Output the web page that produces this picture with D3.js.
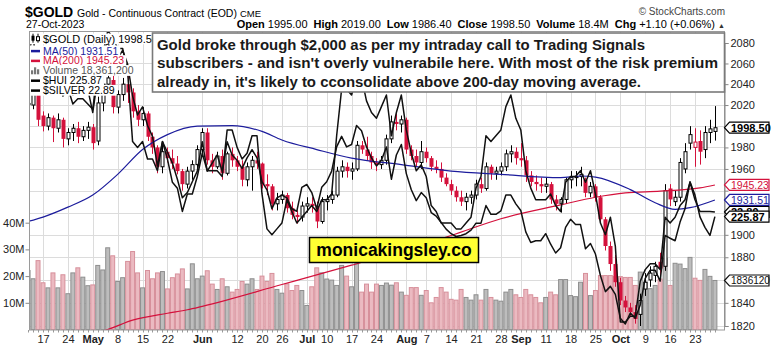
<!DOCTYPE html>
<html>
<head>
<meta charset="utf-8">
<script src="https://cdn.jsdelivr.net/npm/d3@7/dist/d3.min.js"></script>
<style>
  html, body { margin: 0; padding: 0; background: #fff; }
  svg { display: block; }
  text { font-family: "Liberation Sans", Arial, sans-serif; }
</style>
</head>
<body>
<svg id="chart" width="772" height="347"></svg>
<script>
// ---------- data: trading days (2023) ----------
const days = [
  "04-12","04-13","04-14","04-17","04-18","04-19","04-20","04-21","04-24","04-25","04-26","04-27","04-28",
  "05-01","05-02","05-03","05-04","05-05","05-08","05-09","05-10","05-11","05-12","05-15","05-16","05-17","05-18","05-19","05-22","05-23","05-24","05-25","05-26","05-30","05-31",
  "06-01","06-02","06-05","06-06","06-07","06-08","06-09","06-12","06-13","06-14","06-15","06-16","06-20","06-21","06-22","06-23","06-26","06-27","06-28","06-29","06-30",
  "07-03","07-05","07-06","07-07","07-10","07-11","07-12","07-13","07-14","07-17","07-18","07-19","07-20","07-21","07-24","07-25","07-26","07-27","07-28","07-31",
  "08-01","08-02","08-03","08-04","08-07","08-08","08-09","08-10","08-11","08-14","08-15","08-16","08-17","08-18","08-21","08-22","08-23","08-24","08-25","08-28","08-29","08-30","08-31",
  "09-01","09-05","09-06","09-07","09-08","09-11","09-12","09-13","09-14","09-15","09-18","09-19","09-20","09-21","09-22","09-25","09-26","09-27","09-28","09-29",
  "10-02","10-03","10-04","10-05","10-06","10-09","10-10","10-11","10-12","10-13","10-16","10-17","10-18","10-19","10-20","10-23","10-24","10-25","10-26","10-27"
];

// $GOLD daily OHLC
const open = [
  2022,2020,2035,2010,2000,2008,1998,2006,1988,1994,1998,1990,1996,
  1999,1986,2022,2040,2044,2018,2030,2040,2032,2014,2006,2012,1990,1980,1962,1976,1970,1965,1958,1946,1958,1964,
  1978,1994,1968,1962,1972,1956,1974,1968,1962,1950,1962,1968,1965,1946,1944,1928,1932,1936,1924,1918,1916,
  1926,1928,1926,1912,1930,1932,1936,1958,1962,1958,1960,1982,1978,1972,1966,1964,1968,1988,2004,2002,
  2006,1978,1972,1966,1976,1970,1962,1960,1952,1946,1940,1934,1930,1934,1936,1946,1942,1962,1956,1958,1962,1974,1976,
  1970,1968,1954,1948,1946,1944,1946,1932,1928,1932,1950,1952,1953,1950,1938,1944,1934,1914,1890,1874,
  1858,1842,1836,1832,1830,1852,1860,1864,1876,1872,1942,1930,1934,1960,1984,1980,1986,1978,1994,1995
];
const high = [
  2030,2040,2042,2014,2012,2010,2012,2008,1998,2002,2004,2000,2004,
  2002,2028,2048,2078,2048,2034,2046,2052,2036,2020,2018,2014,1994,1982,1984,1980,1978,1972,1960,1962,1968,1982,
  1998,1998,1974,1976,1978,1976,1980,1972,1968,1966,1972,1976,1966,1955,1946,1938,1940,1938,1930,1922,1930,
  1934,1934,1930,1934,1936,1940,1962,1968,1966,1966,1986,1986,1990,1976,1970,1972,1992,2010,2012,2010,
  2008,1982,1978,1986,1980,1972,1968,1966,1956,1950,1944,1940,1938,1940,1950,1952,1966,1964,1962,1966,1978,1982,1980,
  1984,1972,1958,1954,1952,1952,1948,1936,1934,1952,1958,1958,1962,1952,1948,1946,1936,1916,1894,1882,
  1862,1846,1840,1838,1848,1866,1872,1876,1884,1946,1946,1940,1970,1984,2000,1998,1996,2000,2006,2019
];
const low = [
  2012,2016,2000,1995,1996,1985,1994,1980,1982,1986,1984,1986,1988,
  1978,1982,2014,2030,2012,2012,2024,2022,2008,2000,2000,1986,1974,1956,1956,1966,1960,1955,1940,1942,1950,1958,
  1972,1964,1956,1960,1950,1954,1962,1958,1944,1944,1940,1960,1942,1936,1922,1922,1928,1920,1914,1910,1912,
  1920,1920,1906,1910,1922,1928,1934,1952,1952,1950,1958,1974,1968,1960,1958,1960,1964,1984,1996,1994,
  1974,1968,1962,1960,1966,1958,1956,1948,1944,1936,1930,1926,1922,1928,1932,1938,1940,1950,1950,1954,1958,1966,1964,
  1962,1948,1944,1940,1938,1938,1928,1922,1920,1928,1942,1944,1944,1934,1934,1930,1910,1886,1868,1854,
  1838,1832,1828,1822,1820,1846,1854,1858,1864,1868,1926,1926,1930,1956,1978,1962,1964,1970,1984,1986.4
];
const close = [
  2020,2035,2006,2000,2008,1998,2006,1988,1994,1998,1990,1996,1999,
  1984,2022,2040,2046,2018,2030,2040,2032,2014,2006,2012,1990,1980,1962,1976,1970,1965,1958,1946,1958,1964,1978,
  1994,1968,1962,1972,1956,1974,1968,1962,1950,1962,1968,1965,1946,1944,1928,1932,1936,1924,1918,1916,1926,
  1928,1926,1912,1930,1932,1936,1958,1962,1958,1960,1982,1978,1972,1966,1964,1968,1988,2004,2002,2006,
  1978,1972,1966,1976,1970,1962,1960,1952,1946,1940,1934,1930,1934,1936,1946,1942,1962,1956,1958,1962,1974,1976,1970,
  1968,1954,1948,1946,1944,1946,1932,1928,1932,1950,1952,1953,1955,1938,1944,1934,1914,1890,1874,1858,
  1842,1836,1832,1826,1842,1858,1866,1872,1870,1940,1932,1934,1966,1976,1992,1985,1976,1994,1997.4,1998.5
];
// volume, millions of contracts
const volume = [
  22.1,19.0,25.8,17.5,15.6,21.2,15.6,20.5,13.4,21.2,23.1,19.6,16.4,
  16.7,24.0,22.3,30.6,27.6,18.0,19.4,25.5,29.2,21.2,15.6,22.1,19.0,21.2,21.7,15.2,19.4,20.8,22.7,15.2,24.6,19.0,
  20,22,17,15,19,16,14,15,18,17,19,15,20,18,21,15,13.6,17.1,14.6,16.5,14.6,
  9,16,23.1,21.2,18.9,18.5,16.5,24,20,16,24.6,14,17,14,17,16.5,17.4,16.6,17.5,14,
  12.8,15.7,15.7,12.8,14.6,10,12,15.7,14,11.3,11,15,12,11,13,11,15,12,11,10.6,14,15,13,
  12,15,13,12,10,12,14,13,18.7,18.7,12.7,12.3,17.7,21,12.7,14.6,20.2,20.2,20.2,19.8,
  19.8,19.5,19.5,16.5,21.5,17.7,15.3,16.5,18.9,26.6,16.5,24.8,24.5,22.8,27,19.2,18.4,22.5,19.9,18.3612
];
// $SILVER overlay
const silver = [
  25.6,25.9,25.3,25.2,25.3,25.2,25.3,25.1,25.2,24.9,25.0,25.0,25.0,
  24.6,25.2,25.6,26.0,25.9,25.7,25.7,25.3,24.1,24.0,24.1,23.8,23.8,23.6,24.1,23.8,23.4,23.3,22.9,23.2,23.2,23.5,
  23.9,23.6,23.6,23.6,23.5,24.3,24.3,24.0,23.8,23.9,24.2,24.2,23.2,22.6,22.5,22.6,22.7,23.1,22.9,22.7,22.8,
  22.9,23.0,22.9,23.1,23.1,23.2,24.2,25.0,25.0,24.9,25.2,25.2,24.8,24.6,24.5,24.7,24.9,24.2,24.6,24.9,
  24.3,23.9,23.6,23.7,23.5,23.0,22.9,22.7,22.7,22.7,22.6,22.6,22.7,22.8,23.3,23.5,24.2,24.1,24.2,24.3,24.7,24.9,24.5,
  24.3,23.6,23.3,23.1,23.1,23.1,23.2,23.0,22.9,23.4,23.5,23.5,23.6,23.4,23.6,23.2,22.7,22.5,22.8,22.3,
  21.0,21.0,21.1,21.1,21.7,21.9,22.0,22.0,21.9,22.8,22.7,22.8,23.0,23.1,23.4,23.1,22.9,22.9,22.9,22.89
];
// $HUI overlay
const hui = [
  273.9,277.0,267.1,265.5,269.3,265.5,268.6,260.2,262.5,257.9,259.4,259.4,257.9,
  256.4,267.8,271.6,276.2,270.1,270.9,273.2,269.3,260.2,254.8,257.1,251.8,248.7,240.3,247.2,244.2,241.1,236.5,231.2,232.7,235.8,238.8,
  247.2,238.8,241.1,243.4,238.8,247.2,243.4,241.9,239.6,242.6,244.9,242.6,235.8,233.5,228.1,231.2,232.0,231.2,228.1,227.4,234.2,
  235.0,232.7,228.1,234.2,235.8,238.8,245.7,248.7,245.7,246.4,251.8,250.3,245.7,242.6,240.3,241.9,245.7,236.5,243.4,246.4,
  238.1,233.5,230.4,232.7,231.2,227.0,226.0,224.2,222.3,221.0,220.2,220.5,221.0,222.0,224.0,224.0,229.0,226.5,226.5,227.5,232.0,232.0,229.5,
  227.6,221.5,218.5,219.0,219.0,221.0,218.0,215.5,217.0,222.8,225.1,223.6,223.6,216.7,218.2,215.2,209.1,204.5,206.0,203.7,
  196.9,195.3,198.4,196.9,200.7,208.3,210.6,210.6,207.5,220.5,219.7,219.0,224.3,228.1,235.8,232.0,225.8,222.8,220.5,225.87
];
// moving averages (sampled)
const ma50Days = ["04-12","04-17","04-24","05-01","05-08","05-15","05-22","05-31","06-09","06-20","06-26","07-06","07-17","07-31","08-14","08-28","09-14","09-20","09-25","10-04","10-11","10-17","10-20","10-27"];
const ma50 = [1912,1916,1925,1936,1955,1978,1992,2000,2000.5,1995,1987,1978,1970,1964,1958,1955,1952,1953.5,1952.5,1941,1929,1923,1924.5,1931.51];
const ma200Days = ["04-12","04-24","05-04","05-11","05-22","05-26","06-01","06-26","07-17","07-31","08-14","08-28","09-14","09-25","10-03","10-12","10-24","10-27"];
const ma200 = [1804,1810,1817,1825,1831,1834,1837,1856,1873,1885.6,1899.4,1914.5,1927,1934,1938,1939.5,1942.6,1945.23];

// axis ticks
const priceTicks = [1820,1840,1860,1880,1900,1920,1940,1960,1980,2000,2020,2040,2060,2080];
const volumeTicks = [10,20,30,40];
const tickDays = ["04-17","04-24","05-01","05-08","05-15","05-22","06-01","06-12","06-20","06-26","07-03","07-10","07-17","07-24","08-01","08-07","08-14","08-21","08-28","09-01","09-11","09-18","09-25","10-02","10-09","10-16","10-23"];
const tickLabels = ["17","24","May","8","15","22","Jun","12","20","26","Jul","10","17","24","Aug","7","14","21","28","Sep","11","18","25","Oct","9","16","23"];

// ---------- layout ----------
const svg = d3.select("#chart");
const P = {l: 29.5, r: 724.5, t: 31.5, b: 330};
const RED = "#d4113c", BLUE = "#1c1c9c";

const x = d3.scalePoint().domain(days).range([28.07, 714.9]);
const step = x.step();
const y = d3.scaleLog().domain([1820, 2080]).range([326, 43]);
const yVol = d3.scaleLinear().domain([0, 40]).range([329.5, 222.7]);
const ySilver = d3.scaleLinear().domain([21, 26]).range([322, 31]);
const yHui = d3.scaleLinear().domain([195, 277]).range([325, 37]);

svg.append("rect").attr("width", 772).attr("height", 347).attr("fill", "#fff");
svg.append("defs").append("clipPath").attr("id", "plotClip").append("rect")
  .attr("x", P.l).attr("y", P.t).attr("width", P.r - P.l).attr("height", P.b - P.t);

const bars = days.map((d, i) => ({
  d, o: open[i], h: high[i], l: low[i], c: close[i], v: volume[i],
  up: i === 0 ? true : close[i] >= close[i - 1]
}));
const last = days.length - 1;

// grid
const grid = svg.append("g").attr("clip-path", "url(#plotClip)");
grid.selectAll(".hg").data(priceTicks).join("line")
  .attr("x1", P.l).attr("x2", P.r)
  .attr("y1", d => Math.round(y(d)) + 0.5).attr("y2", d => Math.round(y(d)) + 0.5)
  .attr("stroke", "#dcdcdc").attr("stroke-width", 1);
grid.selectAll(".vg").data(tickDays).join("line")
  .attr("x1", d => Math.round(x(d)) + 0.5).attr("x2", d => Math.round(x(d)) + 0.5)
  .attr("y1", P.t).attr("y2", P.b)
  .attr("stroke", "#dcdcdc").attr("stroke-width", 1);

// volume bars
const plotG = svg.append("g").attr("clip-path", "url(#plotClip)");
plotG.append("g").selectAll("rect").data(bars).join("rect")
  .attr("x", d => x(d.d) - step / 2 + 0.5)
  .attr("width", step - 1)
  .attr("y", d => yVol(d.v))
  .attr("height", d => yVol(0) - yVol(d.v))
  .attr("fill", d => d.up ? "#bdbdbd" : "#ebbac1")
  .attr("stroke", d => d.up ? "#8e8e8e" : "#d7909b")
  .attr("stroke-width", 1);

// candles
const cg = plotG.append("g");
bars.forEach(b => {
  const cx = Math.round(x(b.d)) + 0.5;
  const col = b.up ? "#000" : RED;
  cg.append("line").attr("x1", cx).attr("x2", cx)
    .attr("y1", y(b.h)).attr("y2", y(b.l)).attr("stroke", col).attr("stroke-width", 1);
  const top = y(Math.max(b.o, b.c)), bot = y(Math.min(b.o, b.c));
  const hgt = Math.max(1, bot - top);
  if (b.c < b.o) {
    cg.append("rect").attr("x", cx - 2).attr("width", 4).attr("y", top).attr("height", hgt).attr("fill", col);
  } else {
    cg.append("rect").attr("x", cx - 1.5).attr("width", 3).attr("y", top).attr("height", hgt)
      .attr("fill", "#fff").attr("stroke", col).attr("stroke-width", 1);
  }
});

// moving averages
const maLine = d3.line().x(d => x(d[0])).y(d => y(d[1])).curve(d3.curveMonotoneX);
plotG.append("path").attr("d", maLine(d3.zip(ma200Days, ma200)))
  .attr("fill", "none").attr("stroke", RED).attr("stroke-width", 1.2);
plotG.append("path").attr("d", maLine(d3.zip(ma50Days, ma50)))
  .attr("fill", "none").attr("stroke", BLUE).attr("stroke-width", 1.2);

// overlays
plotG.append("path")
  .attr("d", d3.line().x((d, i) => x(days[i])).y(d => ySilver(d))(silver))
  .attr("fill", "none").attr("stroke", "#111").attr("stroke-width", 1.5).attr("stroke-linejoin", "round");
plotG.append("path")
  .attr("d", d3.line().x((d, i) => x(days[i])).y(d => yHui(d))(hui))
  .attr("fill", "none").attr("stroke", "#111").attr("stroke-width", 1.5).attr("stroke-linejoin", "round");

// frame
svg.append("rect").attr("x", P.l).attr("y", P.t).attr("width", P.r - P.l).attr("height", P.b - P.t)
  .attr("fill", "none").attr("stroke", "#9a9a9a").attr("stroke-width", 1);

// value tags on the right axis (drawn later), their positions first
const tags = [
  {y: yVol(volume[last]), label: d3.format("d")(Math.round(volume[last] * 1e5)), color: "#111", bold: false, size: 10},
  {y: y(ma50[ma50.length - 1]), label: d3.format(".2f")(ma50[ma50.length - 1]), color: BLUE, bold: false, size: 10.5},
  {y: y(ma200[ma200.length - 1]), label: d3.format(".2f")(ma200[ma200.length - 1]), color: RED, bold: false, size: 10.5},
  {y: ySilver(silver[last]), label: d3.format(".2f")(silver[last]), color: "#000", bold: true, size: 11},
  {y: yHui(hui[last]), label: d3.format(".2f")(hui[last]), color: "#000", bold: true, size: 11},
  {y: y(close[last]), label: d3.format(".2f")(close[last]), color: "#000", bold: true, size: 11}
];

// right price axis (labels sitting under a tag are left out)
const ra = svg.append("g").attr("transform", `translate(${P.r},0)`)
  .call(d3.axisRight(y).tickValues(priceTicks).tickFormat(d3.format("d")).tickSize(4).tickPadding(2));
ra.select(".domain").attr("stroke", "#888");
ra.selectAll(".tick line").attr("stroke", "#888");
ra.selectAll("text").attr("font-size", 11).attr("fill", "#222").attr("font-family", "Liberation Sans, Arial, sans-serif");
ra.selectAll(".tick").filter(d => tags.some(t => Math.abs(t.y - y(d)) < 7)).select("text").remove();

// left volume axis
const la = svg.append("g").attr("transform", `translate(${P.l},0)`)
  .call(d3.axisLeft(yVol).tickValues(volumeTicks).tickFormat(d => d + "M").tickSize(4).tickPadding(1));
la.select(".domain").remove();
la.selectAll(".tick line").attr("stroke", "#888");
la.selectAll("text").attr("font-size", 11).attr("fill", "#222").attr("font-family", "Liberation Sans, Arial, sans-serif");

// bottom date axis
svg.append("g").selectAll("line").data(days).join("line")
  .attr("x1", d => Math.round(x(d)) + 0.5).attr("x2", d => Math.round(x(d)) + 0.5)
  .attr("y1", P.b).attr("y2", P.b + 2.5).attr("stroke", "#999");
const ba = svg.append("g").attr("transform", `translate(0,${P.b})`)
  .call(d3.axisBottom(x).tickValues(tickDays).tickFormat((d, i) => tickLabels[i]).tickSize(0).tickPadding(5));
ba.select(".domain").remove();
ba.selectAll("text").attr("font-size", 11).attr("fill", "#222")
  .attr("font-family", "Liberation Sans, Arial, sans-serif")
  .attr("font-weight", (d, i) => /^[A-Z]/.test(tickLabels[i]) ? "bold" : "normal");

// tags
tags.forEach(t => {
  const g = svg.append("g");
  const h = 11, x0 = P.r, tip = 5, x1 = 769;
  g.append("path")
    .attr("d", `M${x0},${t.y} L${x0 + tip},${t.y - h / 2} L${x1},${t.y - h / 2} L${x1},${t.y + h / 2} L${x0 + tip},${t.y + h / 2} Z`)
    .attr("fill", "#fff").attr("stroke", t.color).attr("stroke-width", 1.2);
  g.append("text").attr("x", x0 + tip + 1.5).attr("y", t.y + 4).text(t.label)
    .attr("font-size", t.size).attr("font-weight", t.bold ? "bold" : "normal").attr("fill", t.color);
});

// legend
const legendRows = [
  {kind: "candle", color: "#000", text: "$GOLD (Daily) " + d3.format(".2f")(close[last])},
  {kind: "line", color: BLUE, text: "MA(50) " + d3.format(".2f")(ma50[ma50.length - 1])},
  {kind: "line", color: RED, text: "MA(200) " + d3.format(".2f")(ma200[ma200.length - 1])},
  {kind: "vol", color: "#555", text: "Volume " + d3.format(",")(Math.round(volume[last] * 1e6))},
  {kind: "line", color: "#000", text: "$HUI " + d3.format(".2f")(hui[last])},
  {kind: "line", color: "#000", text: "$SILVER " + d3.format(".2f")(silver[last])}
];
const legendBase = [42.7, 54.6, 64.4, 74.3, 84.2, 94.1];
const lg = svg.append("g");
legendRows.forEach((r, i) => {
  const by = legendBase[i];
  const row = lg.append("g");
  const bg = row.append("rect").attr("fill", "#fff");
  const t = row.append("text").attr("x", 43).attr("y", by).text(r.text)
    .attr("font-size", i === 0 ? 11 : 10.5).attr("fill", r.color);
  const w = t.node().getComputedTextLength();
  bg.attr("x", 30).attr("y", by - 9.2).attr("width", w + 15).attr("height", 10.8);
  if (r.kind === "line") {
    row.append("line").attr("x1", 31).attr("x2", 40).attr("y1", by - 3.5).attr("y2", by - 3.5)
      .attr("stroke", r.color).attr("stroke-width", 2.5);
  } else if (r.kind === "vol") {
    [[31, 4], [34, 7], [37, 5]].forEach(([bx, bh]) => row.append("rect")
      .attr("x", bx).attr("y", by - bh).attr("width", 2.2).attr("height", bh).attr("fill", "#777"));
  } else {
    row.append("line").attr("x1", 33).attr("x2", 33).attr("y1", by - 9).attr("y2", by).attr("stroke", "#000");
    row.append("rect").attr("x", 31.5).attr("y", by - 7).attr("width", 3).attr("height", 5).attr("fill", "#000");
    row.append("line").attr("x1", 38).attr("x2", 38).attr("y1", by - 9).attr("y2", by).attr("stroke", "#000");
    row.append("rect").attr("x", 36.5).attr("y", by - 6).attr("width", 3).attr("height", 4).attr("fill", "#fff").attr("stroke", "#000");
  }
});

// commentary box
const note = [
  "Gold broke through $2,000 as per my intraday call to Trading Signals",
  "subscribers - and isn't overly vulnerabile here. With most of the risk premium",
  "already in, it's likely to cconsolidate above 200-day moving average."
];
const noteWidths = [488, 561, 484];
svg.append("rect").attr("x", 152.5).attr("y", 33).attr("width", P.r - 152.5).attr("height", 59)
  .attr("fill", "#fff").attr("stroke", "#7a7a7a").attr("stroke-width", 1.6);
note.forEach((s, i) => {
  svg.append("text").attr("x", 157).attr("y", 50 + i * 18.4).text(s)
    .attr("font-family", "Lato, 'Open Sans', sans-serif").attr("font-weight", 700)
    .attr("font-size", 14.5).attr("fill", "#1a1a1a")
    .attr("textLength", noteWidths[i]).attr("lengthAdjust", "spacingAndGlyphs");
});

// site badge
svg.append("rect").attr("x", 309.5).attr("y", 237.5).attr("width", 169).attr("height", 25)
  .attr("fill", "#ffff33").attr("stroke", "#000").attr("stroke-width", 1.5);
svg.append("text").attr("x", 394).attr("y", 256).attr("text-anchor", "middle").text("monicakingsley.co")
  .attr("font-size", 17.5).attr("font-weight", "bold").attr("fill", "#000");

// header
svg.append("text").attr("x", 25).attr("y", 16.5).text("$GOLD")
  .attr("font-size", 14).attr("font-weight", "bold").attr("fill", "#000");
svg.append("text").attr("x", 77).attr("y", 16.5).text("Gold - Continuous Contract (EOD)")
  .attr("font-size", 10.5).attr("fill", "#000");
svg.append("text").attr("x", 240).attr("y", 16.5).text("CME")
  .attr("font-size", 9.5).attr("fill", "#000");
svg.append("text").attr("x", 26).attr("y", 28).text("27-Oct-2023")
  .attr("font-size", 10.5).attr("fill", "#000");
svg.append("text").attr("x", 725).attr("y", 15).attr("text-anchor", "end").text("© StockCharts.com")
  .attr("font-size", 10).attr("fill", "#444");

const quote = [
  ["Open", d3.format(".2f")(open[last])],
  ["High", d3.format(".2f")(high[last])],
  ["Low", d3.format(".2f")(low[last])],
  ["Close", d3.format(".2f")(close[last])],
  ["Volume", d3.format(".1f")(volume[last]) + "M"],
  ["Chg", "+" + d3.format(".2f")(close[last] - close[last - 1]) + " (+" + d3.format(".2f")((close[last] - close[last - 1]) / close[last - 1] * 100) + "%)"]
];
const qt = svg.append("text").attr("x", 715).attr("y", 28).attr("text-anchor", "end").attr("font-size", 11).attr("fill", "#000");
quote.forEach(([k, v], i) => {
  qt.append("tspan").attr("font-weight", "bold").attr("dx", i === 0 ? 0 : 6).text(k);
  qt.append("tspan").attr("dx", 3).text(v);
});
svg.append("text").attr("x", 718).attr("y", 27.5).text("▲")
  .attr("font-family", "DejaVu Sans, sans-serif").attr("font-size", 7).attr("fill", "#333");
</script>
</body>
</html>
